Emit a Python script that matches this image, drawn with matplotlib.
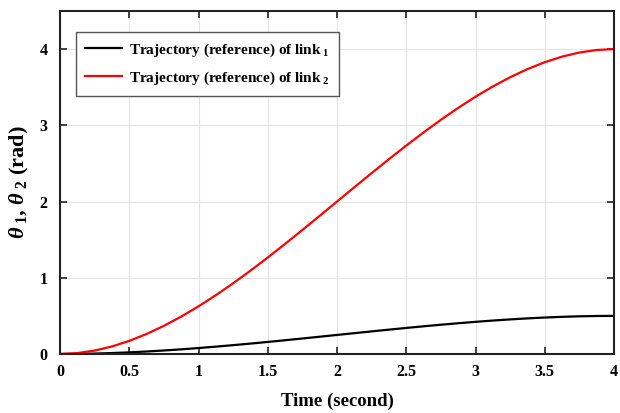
import matplotlib
matplotlib.use("Agg")
import matplotlib.pyplot as plt

plt.rcParams['font.family'] = ['Liberation Serif', 'DejaVu Serif']
plt.rcParams['font.weight'] = 'bold'
plt.rcParams['mathtext.fontset'] = 'custom'
plt.rcParams['mathtext.rm'] = 'Liberation Serif:bold'
plt.rcParams['mathtext.it'] = 'Liberation Serif:italic:bold'
plt.rcParams['mathtext.bf'] = 'Liberation Serif:bold'

time_s = [0, 0.125, 0.25, 0.375, 0.5, 0.625, 0.75, 0.875, 1.0, 1.125, 1.25, 1.375, 1.5, 1.625,
          1.75, 1.875, 2.0, 2.125, 2.25, 2.375, 2.5, 2.625, 2.75, 2.875, 3.0, 3.125, 3.25, 3.375,
          3.5, 3.625, 3.75, 3.875, 4.0]
theta1 = [0, 0.0014, 0.0056, 0.0124, 0.0215, 0.0328, 0.0461, 0.0613, 0.0781, 0.0964, 0.1160,
          0.1366, 0.1582, 0.1805, 0.2034, 0.2266, 0.25, 0.2734, 0.2966, 0.3195, 0.3418, 0.3634,
          0.3840, 0.4036, 0.4219, 0.4387, 0.4539, 0.4672, 0.4785, 0.4876, 0.4944, 0.4986, 0.5]
theta2 = [0, 0.0115, 0.0449, 0.0989, 0.1719, 0.2625, 0.3691, 0.4905, 0.625, 0.7712, 0.9277,
          1.0930, 1.2656, 1.4441, 1.6270, 1.8127, 2.0, 2.1873, 2.3730, 2.5559, 2.7344, 2.9070,
          3.0723, 3.2288, 3.375, 3.5095, 3.6309, 3.7375, 3.8281, 3.9011, 3.9551, 3.9885, 4.0]
labels = ['Trajectory (reference) of link$_{\\ 1}$', 'Trajectory (reference) of link$_{\\ 2}$']
xticks = [0, 0.5, 1, 1.5, 2, 2.5, 3, 3.5, 4]
xticklabels = ['0', '0.5', '1', '1.5', '2', '2.5', '3', '3.5', '4']
yticks = [0, 1, 2, 3, 4]

fig = plt.figure(figsize=(6.2, 4.13), dpi=100)
ax = fig.add_axes([60/620, 1-354/413, 554/620, 343/413])
ax.plot(time_s, theta1, color='black', lw=1.6, label=labels[0])
ax.plot(time_s, theta2, color='red', lw=1.6, label=labels[1])
ax.set_xlim(0, 4)
ax.set_ylim(0, 4.5)
ax.set_xticks(xticks)
ax.set_xticklabels(xticklabels)
ax.set_yticks(yticks)
ax.grid(True, color='#e3e3e3', lw=0.8)
ax.set_axisbelow(True)
ax.tick_params(direction='in', top=True, right=True, labelsize=11.5, length=5, width=1.2,
               color='#222222')
ax.tick_params(axis='x', pad=7)
ax.tick_params(axis='y', pad=9)
for s in ax.spines.values():
    s.set_linewidth(1.5)
    s.set_color('#222222')
ax.set_xlabel('Time (second)', fontsize=13.5, fontweight='bold', labelpad=9)
ax.set_ylabel(r'$\theta_{\ 1}$, $\theta_{\ 2}$ (rad)', fontsize=16, fontweight='bold', labelpad=6)
leg = ax.legend(loc='upper left', bbox_to_anchor=(16/554, 1-21/343), fontsize=11, frameon=True,
                fancybox=False, edgecolor='#555555', framealpha=1, handlelength=2.4,
                handletextpad=0.45, borderpad=0.6, labelspacing=0.7, borderaxespad=0)
leg.get_frame().set_linewidth(1.0)
fig.savefig('out.png', dpi=100)
